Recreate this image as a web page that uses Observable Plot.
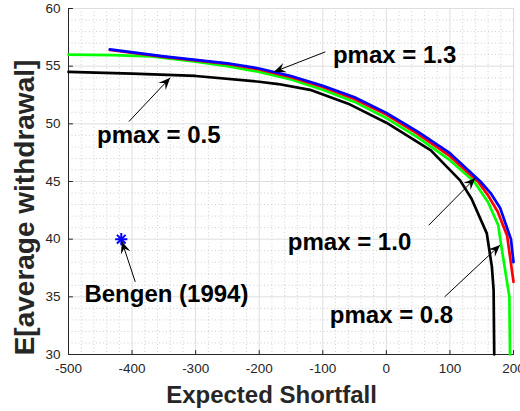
<!DOCTYPE html>
<html>
<head>
<meta charset="utf-8">
<script src="https://cdn.jsdelivr.net/npm/d3@7"></script>
<script src="https://cdn.jsdelivr.net/npm/@observablehq/plot@0.6"></script>
<style>
  html, body { margin: 0; padding: 0; background: #fff; }
  #chart { width: 520px; height: 411px; overflow: hidden; }
</style>
</head>
<body>
<div id="chart"></div>
<script>
// Efficient frontiers: expected shortfall vs E[average withdrawal], one curve per pmax
const es13 = [-435, -350, -300, -250, -200, -150, -100, -50, 0, 50, 100, 148, 164, 179, 196, 200];
const ew13 = [56.45, 55.85, 55.55, 55.25, 54.8, 54.15, 53.3, 52.3, 50.95, 49.3, 47.45, 45.0, 44.0, 42.7, 40.0, 38.0];

const es10 = [-435, -350, -300, -250, -200, -150, -100, -50, 0, 50, 100, 144, 160, 175, 190, 200];
const ew10 = [56.4, 55.8, 55.5, 55.2, 54.72, 54.05, 53.2, 52.15, 50.8, 49.1, 47.2, 45.0, 43.8, 42.4, 40.3, 36.3];

const es08 = [-500, -430, -370, -300, -250, -200, -150, -100, -50, 0, 50, 100, 138, 160, 176, 180, 193.5, 194.5];
const ew08 = [56.0, 55.95, 55.85, 55.4, 55.0, 54.5, 53.85, 52.95, 51.9, 50.5, 48.8, 46.85, 45.0, 43.2, 41.2, 39.7, 35.0, 30];

const es05 = [-500, -400, -300, -200, -170, -120, -60, 0, 70, 116, 134, 158, 166, 168.7, 169.7];
const ew05 = [54.5, 54.35, 54.15, 53.65, 53.45, 52.95, 51.75, 50.1, 47.7, 45.1, 43.5, 40.5, 37.6, 35.6, 30];

// Bengen (1994) reference point
const bengenES = [-417];
const bengenEW = [40];

// Annotation labels and their arrows (tail -> tip)
const noteText  = ["pmax = 1.3", "pmax = 0.5", "Bengen (1994)", "pmax = 1.0", "pmax = 0.8"];
const noteX     = [-84, -455, -475, -155, -89];
const noteY     = [55.9, 49.03, 35.26, 39.74, 33.39];
const arrowX1   = [-96, -405, -395, 66.5, 91.7];
const arrowY1   = [56.24, 50.2, 36.3, 41.2, 35.0];
const arrowX2   = [-177, -340, -416, 140, 179];
const arrowY2   = [54.5, 54.0, 39.8, 45.3, 39.5];

// Axes
const xDomain = [-500, 200];
const yDomain = [30, 60];
const xTicks = [-500, -400, -300, -200, -100, 0, 100, 200];
const yTicks = [30, 35, 40, 45, 50, 55, 60];
const xMinor = d3.range(-500, 201, 20).filter(v => !xTicks.includes(v));
const yMinor = d3.range(30, 61, 1).filter(v => !yTicks.includes(v));

const W = 520, H = 411;
const M = {top: 8, right: 7, bottom: 57, left: 68};
const FONT = '"Liberation Sans", Arial, Helvetica, sans-serif';
const AXIS_INK = "#262626";

const series = [
  {pmax: "0.5", color: "#000000", es: es05, ew: ew05},
  {pmax: "0.8", color: "#00ff00", es: es08, ew: ew08},
  {pmax: "1.0", color: "#ff0000", es: es10, ew: ew10},
  {pmax: "1.3", color: "#0000ff", es: es13, ew: ew13}
];
const curvePoints = series.flatMap(s => s.es.map((x, i) => ({pmax: s.pmax, color: s.color, x, y: s.ew[i]})));

const notes = noteText.map((t, i) => ({text: t, x: noteX[i], y: noteY[i]}));

// Screen-space scales, used to orient the arrowheads
const sx = Plot.scale({x: {domain: xDomain, range: [M.left, W - M.right]}});
const sy = Plot.scale({y: {domain: yDomain, range: [H - M.bottom, M.top]}});
const arrows = arrowX1.map((x1, i) => {
  const dx = sx.apply(arrowX2[i]) - sx.apply(x1);
  const dy = sy.apply(arrowY2[i]) - sy.apply(arrowY1[i]);
  return {x1, y1: arrowY1[i], x2: arrowX2[i], y2: arrowY2[i], angle: Math.atan2(dx, -dy) * 180 / Math.PI};
});

// Filled, notched arrowhead pointing along the vector
const headShape = {
  draw(ctx, l) {
    ctx.moveTo(0, -l);
    ctx.lineTo(l * 0.42, 0);
    ctx.lineTo(0, -l * 0.38);
    ctx.lineTo(-l * 0.42, 0);
    ctx.closePath();
  }
};
// Short inward tick mark
const tickShape = {
  draw(ctx, l) { ctx.moveTo(0, 0); ctx.lineTo(0, -l); }
};

const chart = Plot.plot({
  width: W,
  height: H,
  marginTop: M.top,
  marginRight: M.right,
  marginBottom: M.bottom,
  marginLeft: M.left,
  style: {fontFamily: FONT, background: "#fff", overflow: "visible"},
  x: {domain: xDomain},
  y: {domain: yDomain},
  marks: [
    // grid
    Plot.ruleX(xMinor, {stroke: "#c4c4c4", strokeWidth: 0.8, strokeDasharray: "1,2.5"}),
    Plot.ruleY(yMinor, {stroke: "#c4c4c4", strokeWidth: 0.8, strokeDasharray: "1,2.5"}),
    Plot.ruleX(xTicks, {stroke: "#dedede", strokeWidth: 1}),
    Plot.ruleY(yTicks, {stroke: "#dedede", strokeWidth: 1}),
    // axis lines and tick labels
    Plot.ruleX([xDomain[0]], {stroke: AXIS_INK, strokeWidth: 1}),
    Plot.ruleY([yDomain[0]], {stroke: AXIS_INK, strokeWidth: 1}),
    Plot.vector(xTicks, {x: d => d, y: () => yDomain[0], length: 4, rotate: 0, anchor: "start", shape: tickShape, stroke: AXIS_INK, strokeWidth: 1}),
    Plot.vector(yTicks, {x: () => xDomain[0], y: d => d, length: 4, rotate: 90, anchor: "start", shape: tickShape, stroke: AXIS_INK, strokeWidth: 1}),
    Plot.axisX({ticks: xTicks, tickSize: 0, tickPadding: 9, fontSize: 13.5, fill: AXIS_INK, label: null, tickFormat: d => String(d)}),
    Plot.axisY({ticks: yTicks, tickSize: 0, tickPadding: 8, fontSize: 13.5, fill: AXIS_INK, label: null, tickFormat: d => String(d)}),
    // frontier curves
    Plot.line(curvePoints, {x: "x", y: "y", z: "pmax", stroke: "color", strokeWidth: 2.7, strokeLinejoin: "round"}),
    // Bengen point (asterisk)
    Plot.dot(bengenES.map((x, i) => ({x, y: bengenEW[i]})), {x: "x", y: "y", symbol: "plus", r: 4, stroke: "#0000ff", strokeWidth: 2}),
    Plot.dot(bengenES.map((x, i) => ({x, y: bengenEW[i]})), {x: "x", y: "y", symbol: "times", r: 4, stroke: "#0000ff", strokeWidth: 2}),
    // annotation arrows
    Plot.link(arrows, {x1: "x1", y1: "y1", x2: "x2", y2: "y2", stroke: "#000", strokeWidth: 1}),
    Plot.vector(arrows, {x: "x2", y: "y2", rotate: "angle", length: 12, anchor: "end", shape: headShape, fill: "#000", stroke: "none"}),
    // annotation labels
    Plot.text(notes, {x: "x", y: "y", text: "text", textAnchor: "start", lineAnchor: "middle", fontSize: 24, fontWeight: "bold", fill: "#000"}),
    // axis titles
    Plot.text(["Expected Shortfall"], {frameAnchor: "bottom", text: d => d, textAnchor: "middle", lineAnchor: "middle", dx: -19.5, dy: 41, fontSize: 24, fontWeight: "bold", fill: AXIS_INK}),
    Plot.text(["E[average withdrawal]"], {frameAnchor: "left", text: d => d, rotate: -90, textAnchor: "middle", lineAnchor: "middle", dx: -43.5, dy: 26, fontSize: 28, fontWeight: "bold", fill: AXIS_INK})
  ]
});

document.getElementById("chart").appendChild(chart);
</script>
</body>
</html>
